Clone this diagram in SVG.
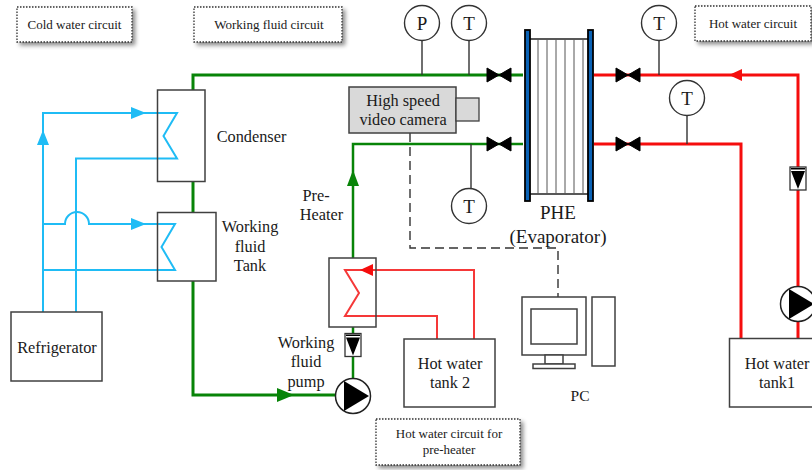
<svg xmlns="http://www.w3.org/2000/svg" width="812" height="470" viewBox="0 0 812 470">
<defs>
<filter id="sh" x="-10%" y="-20%" width="125%" height="150%"><feDropShadow dx="3" dy="3" stdDeviation="2" flood-color="#000" flood-opacity="0.45"/></filter>
<g id="valve"><path d="M-12,-7 L0,0 L-12,7 Z M12,-7 L0,0 L12,7 Z" fill="#000" stroke="#000" stroke-width="1"/></g>
<g id="check"><rect x="-8" y="-12" width="16" height="23" fill="#fff" stroke="#333" stroke-width="1.3"/><path d="M-7,-11 H7 V-9.500 H-7 Z M-7,-8 H7 L0,10 Z" fill="#000"/></g>
<g id="pump"><circle r="17.5" fill="#fff" stroke="#222" stroke-width="1.5"/><path d="M-9,-15 L16,0 L-9,15 Z" fill="#000"/></g>
</defs>
<style>
text{font-family:"Liberation Serif","Times New Roman",serif;fill:#1a1a1a;text-anchor:middle}
.n{font-size:13px}.l{font-size:16.3px}.e{font-size:19px}.m{font-size:19px}
.box{fill:#fff;stroke:#404040;stroke-width:1.5}
.note{fill:#fff;stroke:#333;stroke-width:1.3;stroke-dasharray:1.5 1.5;filter:url(#sh)}
.g{fill:none;stroke:#088408;stroke-width:3}
.gt{fill:none;stroke:#088408;stroke-width:2.500}
.r{fill:none;stroke:#f50d0d;stroke-width:3}
.rt{fill:none;stroke:#f53838;stroke-width:2}
.b{fill:none;stroke:#1fbcf5;stroke-width:2}
.k{fill:none;stroke:#333;stroke-width:1.4}
.d{fill:none;stroke:#333;stroke-width:1.4;stroke-dasharray:9 5}
.c{fill:#fff;stroke:#333;stroke-width:1.4}
.ag{fill:#088408}.ar{fill:#f50d0d}.ab{fill:#1fbcf5}
</style>
<g id="connectors">
<path class="g" d="M193,90 V75 H523"/>
<path class="g" d="M193,182 V212"/>
<path class="g" d="M193,281 V395 H337"/>
<path class="gt" d="M353,258 V144 H523"/>
<path class="gt" d="M353,327 V378"/>
<path class="r" d="M594,75 H798 V338"/>
<path class="r" d="M594,144 H741 V338"/>
<path class="rt" d="M474,339 V270 H345 L359,293 L345,316 H437 V339"/>
<path class="b" d="M43,312 V113 H177 L163.500,136 L177,158.500 H76 V312"/>
<path class="b" d="M43,224 H65 A12,12 0 0 1 89,224 H175 L161.500,247 L175,270 H43"/>
<path class="k" d="M422,40 V75 M469,40 V75 M471,144 V189 M659,40 V75 M687,115 V144"/>
<path class="d" d="M410,133 V248 H558 V297"/>
<path class="ag" d="M277,388 L294,395 L277,402 Z"/>
<path class="ag" d="M347,186 L353,170 L359,186 Z"/>
<path class="ar" d="M373,264 L360,270 L373,276 Z"/>
<path class="ar" d="M742,69 L729,75 L742,81 Z"/>
<path class="ab" d="M131,107 L146,113 L131,119 Z"/>
<path class="ab" d="M131,218 L146,224 L131,230 Z"/>
<path class="ab" d="M37,145 L43,130 L49,145 Z"/>
<use href="#valve" x="499" y="75"/>
<use href="#valve" x="499" y="144"/>
<use href="#valve" x="628" y="75"/>
<use href="#valve" x="628" y="144"/>
</g>
<g id="note-cold"><rect class="note" x="17" y="7" width="115" height="35"/><text class="n" x="74.500" y="29">Cold water circuit</text></g>
<g id="note-working"><rect class="note" x="194" y="7" width="148" height="35"/><text class="n" x="269" y="29">Working fluid circuit</text></g>
<g id="note-hot"><rect class="note" x="695" y="6" width="116" height="35"/><text class="n" x="753" y="28">Hot water circuit</text></g>
<g id="note-preheater"><rect class="note" x="376" y="419" width="144" height="46"/><text class="n" x="449" y="438">Hot water circuit for</text><text class="n" x="449" y="454">pre-heater</text></g>
<g id="condenser"><rect class="box" x="157.500" y="90" width="47.500" height="91.500" fill-opacity="0"/><text class="l" x="251.500" y="142">Condenser</text></g>
<g id="tank"><rect class="box" x="157.500" y="212.500" width="58.500" height="68.500" fill-opacity="0"/><text class="l" x="250" y="232">Working</text><text class="l" x="250" y="252">fluid</text><text class="l" x="250" y="271">Tank</text></g>
<g id="refrigerator"><rect class="box" x="11" y="312" width="91" height="69"/><text class="l" x="57" y="353">Refrigerator</text></g>
<g id="preheater"><rect class="box" x="329" y="258" width="47" height="69" fill-opacity="0"/><text class="l" x="316" y="201">Pre-</text><text class="l" x="321.500" y="220">Heater</text></g>
<g id="check-green"><use href="#check" x="353" y="345.500"/></g>
<g id="pump-green"><use href="#pump" x="353" y="396"/><text class="l" x="306" y="348">Working</text><text class="l" x="306" y="367">fluid</text><text class="l" x="306" y="387">pump</text></g>
<g id="tank2"><rect class="box" x="404" y="339" width="91" height="68"/><text class="l" x="450" y="369">Hot water</text><text class="l" x="450" y="388">tank 2</text></g>
<g id="camera"><rect x="349" y="87" width="107" height="46" fill="#d9d9d9" stroke="#404040" stroke-width="1.5"/><rect x="456" y="98" width="23" height="23" fill="#d9d9d9" stroke="#404040" stroke-width="1.3"/><text class="l" x="403" y="106">High speed</text><text class="l" x="403" y="125">video camera</text></g>
<g id="gauge-p"><circle class="c" cx="422" cy="23" r="17.500"/><text class="m" x="422" y="29.500">P</text></g>
<g id="gauge-t1"><circle class="c" cx="469" cy="23" r="17.500"/><text class="m" x="469" y="29.500">T</text></g>
<g id="gauge-t2"><circle class="c" cx="469" cy="206" r="17.500"/><text class="m" x="469" y="212.500">T</text></g>
<g id="gauge-t3"><circle class="c" cx="659" cy="23" r="17.500"/><text class="m" x="659" y="29.500">T</text></g>
<g id="gauge-t4"><circle class="c" cx="687" cy="98" r="17.500"/><text class="m" x="687" y="104.500">T</text></g>
<g id="phe">
<path d="M530,39 H588 M530,194 H588" stroke="#222" stroke-width="1.600" fill="none"/>
<path d="M538,39 V194 M547,39 V194 M556,39 V194 M565,39 V194 M574,39 V194 M583,39 V194" stroke="#555" stroke-width="1" fill="none"/>
<rect x="525" y="30" width="5" height="171" fill="#0a62b5" stroke="#000" stroke-width="1.800"/>
<rect x="588" y="30" width="5" height="171" fill="#0a62b5" stroke="#000" stroke-width="1.800"/>
<text class="e" x="558" y="219">PHE</text><text class="e" x="558" y="243">(Evaporator)</text>
</g>
<g id="pc">
<rect class="box" x="522" y="297" width="64" height="58"/><rect class="box" x="531" y="309" width="46" height="35"/>
<rect class="box" x="545" y="355" width="18" height="9"/><rect class="box" x="533" y="364" width="42" height="4.500"/>
<rect class="box" x="592" y="297" width="23" height="69"/>
<text x="580" y="401" style="font-size:15.500px">PC</text>
</g>
<g id="check-red"><use href="#check" x="798" y="179"/></g>
<g id="pump-red"><use href="#pump" x="798" y="304"/></g>
<g id="tank1"><rect class="box" x="729.500" y="338.500" width="100" height="68.500"/><text class="l" x="777" y="369">Hot water</text><text class="l" x="777" y="388">tank1</text></g>
</svg>
